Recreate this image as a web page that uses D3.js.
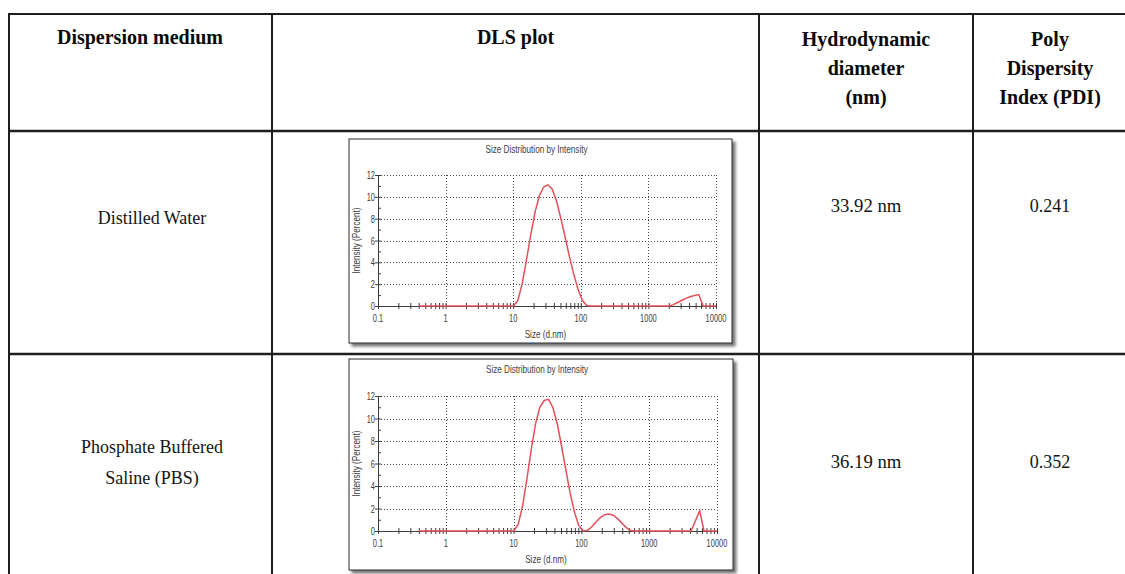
<!DOCTYPE html>
<html>
<head>
<meta charset="utf-8">
<script src="https://cdn.jsdelivr.net/npm/d3@7"></script>
<style>
  body { margin: 0; background: #fff; }
</style>
</head>
<body>
<div id="viz"></div>
<script>
//Table data

let width = 1125
let height = 574

let headers = [["Dispersion medium"], ["DLS plot"], ["Hydrodynamic", "diameter", "(nm)"], ["Poly", "Dispersity", "Index (PDI)"]]
let media = [["Distilled Water"], ["Phosphate Buffered", "Saline (PBS)"]]
let diameters = ["33.92 nm", "36.19 nm"]
let pdis = ["0.241", "0.352"]

//DLS size bins (d.nm) and intensity (%)
let sizeBins = [0.4, 0.4632, 0.5365, 0.6213, 0.7195, 0.8332, 0.9649, 1.117, 1.294, 1.499,
                1.736, 2.01, 2.328, 2.696, 3.122, 3.615, 4.187, 4.849, 5.615, 6.503,
                7.531, 8.721, 10.1, 11.7, 13.54, 15.69, 18.17, 21.04, 24.36, 28.21,
                32.67, 37.84, 43.82, 50.75, 58.77, 68.06, 78.82, 91.28, 105.7, 122.4,
                141.8, 164.2, 190.1, 220.2, 255.0, 295.3, 342.0, 396.1, 458.7, 531.2,
                615.1, 712.4, 825.0, 955.4, 1106, 1281, 1484, 1718, 1990, 2305,
                2669, 3091, 3580, 4145, 4801, 5560, 6439, 7456, 8635, 10000]

let waterIntensity = [0, 0, 0, 0, 0, 0, 0, 0, 0, 0,
                      0, 0, 0, 0, 0, 0, 0, 0, 0, 0,
                      0, 0, 0, 0.5, 2.0, 4.2, 6.5, 8.6, 10.1, 10.9,
                      11.1, 10.7, 9.6, 8.0, 6.3, 4.5, 2.9, 1.5, 0.5, 0.05,
                      0, 0, 0, 0, 0, 0, 0, 0, 0, 0,
                      0, 0, 0, 0, 0, 0, 0, 0, 0, 0.1,
                      0.3, 0.5, 0.7, 0.85, 0.97, 1.05, 0, 0, 0, 0]

let pbsIntensity = [0, 0, 0, 0, 0, 0, 0, 0, 0, 0,
                    0, 0, 0, 0, 0, 0, 0, 0, 0, 0,
                    0, 0, 0, 0.6, 2.2, 4.6, 7.2, 9.5, 11.0, 11.6,
                    11.7, 11.0, 9.6, 7.6, 5.5, 3.4, 1.7, 0.5, 0, 0.05,
                    0.35, 0.8, 1.2, 1.45, 1.5, 1.4, 1.1, 0.7, 0.3, 0.05,
                    0, 0, 0, 0, 0, 0, 0, 0, 0, 0,
                    0, 0, 0, 0, 0.9, 1.8, 0, 0, 0, 0]

let xTicks = [0.1, 1, 10, 100, 1000, 10000]
let yTicks = [0, 2, 4, 6, 8, 10, 12]

let svg = d3.select('#viz').append('svg').attr("width", width).attr("height", height)

let defs = svg.append("defs")
let shadow = defs.append("filter").attr("id", "shadow").attr("x", "-5%").attr("y", "-5%").attr("width", "115%").attr("height", "115%")
shadow.append("feDropShadow").attr("dx", 3).attr("dy", 3).attr("stdDeviation", 1.8).attr("flood-color", "#000").attr("flood-opacity", 0.55)

//Table grid
let colX = [9, 272, 759, 973, 1127]
let rowY = [14, 131, 354, 600]
let lineColor = "rgb(30,30,30)"

svg.append("line").attr("x1", colX[0]).attr("x2", width).attr("y1", rowY[0]).attr("y2", rowY[0]).attr("stroke", lineColor).attr("stroke-width", 2)
svg.append("line").attr("x1", colX[0]).attr("x2", width).attr("y1", rowY[1]).attr("y2", rowY[1]).attr("stroke", lineColor).attr("stroke-width", 2.5)
svg.append("line").attr("x1", colX[0]).attr("x2", width).attr("y1", rowY[2]).attr("y2", rowY[2]).attr("stroke", lineColor).attr("stroke-width", 2.5)
for (let i = 0; i < 4; i++) {
    svg.append("line").attr("x1", colX[i]).attr("x2", colX[i]).attr("y1", rowY[0] - 1).attr("y2", height)
        .attr("stroke", lineColor).attr("stroke-width", 2)
}

//Header cells
let headerBase = [44, 44, 46, 46]
headers.forEach((lines, c) => {
    let cx = c == 0 ? 140 : (colX[c] + colX[c + 1]) / 2
    lines.forEach((t, k) => {
        svg.append("text").text(t).attr("text-anchor", "middle")
            .attr("transform", `translate(${cx},${headerBase[c] + k * 29}) scale(1,1.1)`)
            .attr("font-family", "'Liberation Serif', 'Times New Roman', serif").attr("font-weight", "bold")
            .attr("font-size", 20).attr("fill", "rgb(10,10,10)")
    })
})

//Body cells
let rowMid = [218, 462]
let bodyFont = "'Liberation Serif', 'Times New Roman', serif"
media.forEach((lines, r) => {
    let y0 = rowMid[r] + 6 - (lines.length - 1) * 15.5
    lines.forEach((t, k) => {
        svg.append("text").text(t).attr("text-anchor", "middle")
            .attr("transform", `translate(152,${y0 + k * 31}) scale(1,1.08)`)
            .attr("font-family", bodyFont).attr("font-size", 18).attr("fill", "rgb(20,20,20)")
    })
})
let valueMid = [212, 468]
diameters.forEach((t, r) => {
    svg.append("text").text(t).attr("text-anchor", "middle")
        .attr("transform", `translate(866,${valueMid[r]}) scale(1.04,1.08)`)
        .attr("font-family", bodyFont).attr("font-size", 18).attr("fill", "rgb(20,20,20)")
})
pdis.forEach((t, r) => {
    svg.append("text").text(t).attr("text-anchor", "middle")
        .attr("transform", `translate(1050,${valueMid[r]}) scale(1,1.08)`)
        .attr("font-family", bodyFont).attr("font-size", 18).attr("fill", "rgb(20,20,20)")
})

//DLS plots
let plotFont = "'Liberation Sans', Arial, sans-serif"

function smallText(g, t, x, y, anchor, squeeze, rotate) {
    let tr = `translate(${x},${y})` + (rotate ? " rotate(-90)" : "") + ` scale(${squeeze},1)`
    return g.append("text").text(t).attr("transform", tr).attr("text-anchor", anchor)
        .attr("font-family", plotFont).attr("font-size", 11).attr("fill", "rgb(60,60,60)")
}

function drawDLS(box, values) {
    let g = svg.append("g")
    g.append("rect").attr("x", box.x).attr("y", box.y).attr("width", box.w).attr("height", box.h)
        .attr("fill", "#fff").attr("stroke", "rgb(40,40,40)").attr("stroke-width", 1).attr("filter", "url(#shadow)")

    let left = box.x + 29, right = box.x + box.w - 16
    let top = box.y + box.top, bottom = box.y + box.h - box.bottom

    let x = d3.scaleLog().domain([0.1, 10000]).range([left, right])
    let y = d3.scaleLinear().domain([0, 12]).range([bottom, top])

    //dotted grid
    g.selectAll(".hgrid").data(yTicks.slice(1)).join("line")
        .attr("x1", left).attr("x2", right).attr("y1", d => Math.round(y(d)) + 0.5).attr("y2", d => Math.round(y(d)) + 0.5)
        .attr("stroke", "rgb(70,70,70)").attr("stroke-width", 1).attr("stroke-dasharray", "1,2")
    g.selectAll(".vgrid").data(xTicks.slice(1)).join("line")
        .attr("x1", d => Math.round(x(d)) + 0.5).attr("x2", d => Math.round(x(d)) + 0.5).attr("y1", top).attr("y2", bottom)
        .attr("stroke", "rgb(70,70,70)").attr("stroke-width", 1).attr("stroke-dasharray", "1,2")

    //axes
    let xAxis = d3.axisBottom(x).tickValues(x.ticks()).tickFormat("").tickSize(3).tickSizeOuter(0)
    let xg = g.append("g").attr("transform", `translate(0,${bottom})`).call(xAxis)
    xg.select(".domain").attr("stroke", "rgb(60,60,60)")
    xg.selectAll(".tick line").attr("y1", -3).attr("stroke", "rgb(60,60,60)")

    let yAxis = d3.axisLeft(y).ticks(12).tickFormat("").tickSize(3).tickSizeOuter(0)
    let yg = g.append("g").attr("transform", `translate(${left},0)`).call(yAxis)
    yg.select(".domain").attr("stroke", "rgb(60,60,60)")
    yg.selectAll(".tick line").attr("x1", d => d % 2 == 0 ? -3 : 0).attr("x2", 3).attr("stroke", "rgb(60,60,60)")

    //tick labels
    xTicks.forEach(d => smallText(g, d3.format("")(d), x(d), bottom + 16, "middle", 0.68))
    yTicks.forEach(d => smallText(g, d, left - 3, y(d) + 4, "end", 0.68))

    smallText(g, "Size Distribution by Intensity", box.x + box.w / 2 - 4, box.y + 14, "middle", 0.74)
    smallText(g, "Size (d.nm)", x(30), bottom + 32, "middle", 0.74)
    smallText(g, "Intensity (Percent)", box.x + 11, (top + bottom) / 2, "middle", 0.74, true)

    //distribution curve
    let line = d3.line().x(d => x(d[0])).y(d => y(d[1]))
    g.append("path").datum(sizeBins.map((s, i) => [s, values[i]]))
        .attr("d", line).attr("fill", "none").attr("stroke", "rgb(228,80,90)").attr("stroke-width", 1.5)
}

drawDLS({x: 349, y: 139, w: 383, h: 204, top: 36, bottom: 37}, waterIntensity)
drawDLS({x: 349, y: 359, w: 384, h: 211, top: 37, bottom: 39}, pbsIntensity)
</script>
</body>
</html>
